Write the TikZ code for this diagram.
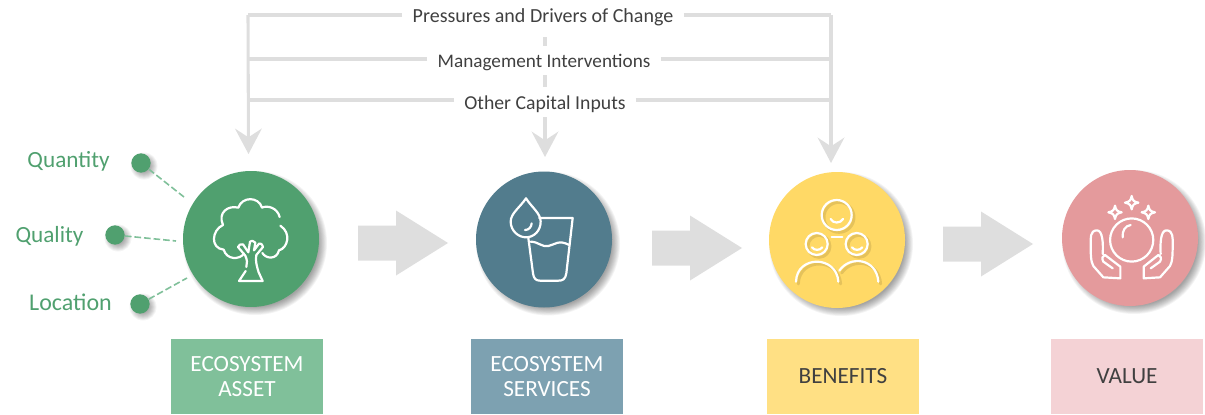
\documentclass[tikz,border=0pt]{standalone}
\usepackage{fontspec}
\setmainfont{Carlito}
\usetikzlibrary{arrows.meta,calc}
\definecolor{cgreen}{HTML}{50A06F}
\definecolor{cblue}{HTML}{527C8D}
\definecolor{cyellow}{HTML}{FFD966}
\definecolor{cpink}{HTML}{E49A9C}
\definecolor{bgreen}{HTML}{80C09A}
\definecolor{bblue}{HTML}{7DA1B1}
\definecolor{byellow}{HTML}{FFE084}
\definecolor{bpink}{HTML}{F4D2D5}
\definecolor{lgrey}{HTML}{DEDEDE}
\definecolor{tgrey}{HTML}{404040}
\tikzset{
  disc/.style={circle,draw=none,fill=#1,minimum size=102pt,inner sep=0pt},
  dot/.style={circle,draw=none,fill=cgreen,minimum size=14.5pt,inner sep=0pt},
  cap/.style={rectangle,draw=none,fill=#1,minimum width=114pt,minimum height=56.25pt,inner sep=0pt,align=center,font=\fontsize{17.4}{19.4}\selectfont},
  toplabel/.style={text=tgrey,inner xsep=7.5pt,inner ysep=1pt},
  sidelabel/.style={text=cgreen,inner sep=0pt},
  bar/.style={draw=lgrey,line width=2.3pt},
  tipbar/.style={bar,-{Stealth[length=19pt,width=20pt,inset=6.5pt]}},
  link/.style={draw=bgreen,line width=1.2pt,dash pattern=on 5pt off 2.2pt},
  icon/.style={draw=white,line width=1.65pt,line cap=round,line join=round},
  iconshade/.style={draw=black,draw opacity=.10,line width=2.2pt,line cap=round,line join=round},
  blockfill/.style={fill=lgrey,draw=none},
}
\newcommand{\softshadow}[4]{% x y radius(px) offset
  \foreach \i in {0,...,9}{
    \fill[black,opacity=.045] ({#1+#4},{#2+#4}) circle[radius={(#3+4-\i*0.9)*0.75pt}];
  }
}
\newcommand{\blockarrow}[2]{% left x, mid y
  \fill[blockfill] (#1,#2-17.5) -- ++(38,0) -- ++(0,-15) -- (#1+90,#2) -- (#1+38,#2+32.5) -- ++(0,-15) -- (#1,#2+17.5) -- cycle;
}
\begin{document}
\begin{tikzpicture}[x=0.75pt,y=-0.75pt]
\useasboundingbox (0,0) rectangle (1205,414);

% top labels
\node[toplabel,font=\fontsize{15}{18}\selectfont] (press) at (543,17.5) {Pressures and Drivers of Change};
\node[toplabel,font=\fontsize{14.4}{18}\selectfont] (mgmt) at (544,63) {Management Interventions};
\node[toplabel,font=\fontsize{14.8}{18}\selectfont] (other) at (545,104) {Other Capital Inputs};

\coordinate (tl) at (248,15);
\coordinate (tr) at (831,15);
\coordinate (ml) at (248,59);
\coordinate (mr) at (831,59);
\coordinate (ol) at (248,100);
\coordinate (or) at (831,100);
\coordinate (lt) at (248.5,154);
\coordinate (rt) at (831,163);
\coordinate (ct) at (545,157);
\coordinate (c1) at (545,37);
\coordinate (c2) at (545,46);
\coordinate (c3) at (545,75);
\coordinate (c4) at (545,87);
\coordinate (c5) at (545,117);

\draw[bar] (tl -| press.west) -- (tl);
\draw[tipbar] (tl) -- (lt);
\draw[bar] (tr -| press.east) -- (tr);
\draw[tipbar] (tr) -- (rt);
\draw[bar] (ml -| mgmt.west) -- (ml);
\draw[bar] (mr -| mgmt.east) -- (mr);
\draw[bar] (ol -| other.west) -- (ol);
\draw[bar] (or -| other.east) -- (or);
\draw[bar] (c1) -- (c2);
\draw[bar] (c3) -- (c4);
\draw[tipbar] (c5) -- (ct);

% block arrows
\blockarrow{358}{243}
\blockarrow{652}{248}
\blockarrow{943}{244}

% shadows
\softshadow{251}{239}{68}{4}
\softshadow{544}{239.5}{68}{4}
\softshadow{837}{240}{68}{4}
\softshadow{1130}{238}{68}{4}
\softshadow{141}{163}{9.5}{3}
\softshadow{115}{235}{9.5}{3}
\softshadow{140}{304}{9.5}{3}

% discs
\node[disc=cgreen] (asset) at (251,239) {};
\node[disc=cblue] (serv) at (544,239.5) {};
\node[disc=cyellow] (ben) at (837,240) {};
\node[disc=cpink] (val) at (1130,238) {};

% side dots and labels
\node[dot] (d1) at (141,163) {};
\node[dot] (d2) at (115,235) {};
\node[dot] (d3) at (140,304) {};
\node[sidelabel,font=\fontsize{17.4}{20}\selectfont] (quantity) at (68.5,161) {Quantity};
\node[sidelabel,font=\fontsize{17.4}{20}\selectfont] (quality) at (49.5,236) {Quality};
\node[sidelabel,font=\fontsize{18}{20}\selectfont] (location) at (70.5,302) {Location};
\coordinate (e1) at (184,197);
\coordinate (e2) at (176,241);
\coordinate (e3) at (187,278);
\draw[link] (d1) -- (e1);
\draw[link] (d2) -- (e2);
\draw[link] (d3) -- (e3);

% caption boxes
\node[cap=bgreen,text=white] (b1) at (247,376.5) {ECOSYSTEM\\ASSET};
\node[cap=bblue,text=white] (b2) at (547,376.5) {ECOSYSTEM\\SERVICES};
\node[cap=byellow,text=tgrey] (b3) at (843,376.5) {BENEFITS};
\node[cap=bpink,text=tgrey] (b4) at (1127,376.5) {VALUE};

% tree icon
\begin{scope}[shift={(180,165)},x=0.25pt,y=-0.25pt]
\draw[icon] (247,264) .. controls (258,282) and (290,285) .. (297,256)
  .. controls (322,250) and (336,205) .. (301,182);
\draw[icon] (299,156) .. controls (292,128) and (262,120) .. (246,128)
  .. controls (236,94) and (186,94) .. (175,128)
  .. controls (145,120) and (112,142) .. (129,180)
  .. controls (95,195) and (90,250) .. (131,254)
  .. controls (140,285) and (178,285) .. (192,266);
\draw[icon] (197,318) -- (177,348) -- (248,348) -- (236,322) .. controls (229,300) and (226,285) .. (229,270)
  -- (249,246) .. controls (246,236) and (241,234) .. (237,236) -- (222,256) -- (226,233)
  .. controls (220,226) and (214,226) .. (210,230) -- (205,262) -- (189,238)
  .. controls (182,236) and (176,240) .. (174,246) -- (196,272) .. controls (202,285) and (202,295) .. (199,306);
\end{scope}

% glass icon
\begin{scope}[shift={(440,160)},x=0.25pt,y=-0.25pt]
\draw[icon] (258,115) .. controls (240,142) and (212,160) .. (212,185)
  .. controls (212,212) and (235,232) .. (258,232)
  .. controls (282,232) and (302,212) .. (302,185)
  .. controls (302,160) and (275,142) .. (258,115) -- cycle;
\draw[icon] (255,210) .. controls (266,210) and (274,202) .. (275,190);
\draw[icon] (298,174) -- (398,174) -- (379,340) .. controls (376,358) and (368,362) .. (355,362)
  -- (300,362) .. controls (288,362) and (281,356) .. (279,340) -- (265,234);
\draw[icon] (272,245) .. controls (295,245) and (305,262) .. (325,258)
  .. controls (345,254) and (355,238) .. (388,255);
\end{scope}

% people icon
\begin{scope}[shift={(750,160)},x=0.25pt,y=-0.25pt]
\begin{scope}[shift={(7,7)},x=0.25pt,y=-0.25pt]
\draw[iconshade] (260,165) circle[radius=11.25pt];
\draw[iconshade] (200,252) circle[radius=8.25pt];
\draw[iconshade] (320,252) circle[radius=8.25pt];
\draw[iconshade] (138,365) .. controls (140,285) and (260,285) .. (265,365);
\draw[iconshade] (268,332) .. controls (300,285) and (380,295) .. (385,365);
\end{scope}
\draw[icon] (260,165) circle[radius=11.25pt];
\draw[icon] (242,177) .. controls (248,191) and (272,191) .. (279,177);
\draw[icon] (200,252) circle[radius=8.25pt];
\draw[icon] (186,262) .. controls (192,272) and (210,272) .. (217,262);
\draw[icon] (320,252) circle[radius=8.25pt];
\draw[icon] (306,262) .. controls (312,272) and (330,272) .. (337,262);
\draw[icon] (245,232) -- (277,232);
\draw[icon] (138,365) .. controls (140,285) and (260,285) .. (265,365);
\draw[icon] (268,332) .. controls (300,285) and (380,295) .. (385,365);
\end{scope}

% hands icon
\begin{scope}[shift={(1040,160)},x=0.25pt,y=-0.25pt]
\draw[icon] (275,240) circle[radius=16.2pt];
\draw[icon] (248,232) .. controls (246,212) and (256,197) .. (272,195);
\foreach \sx/\sy/\r in {275/128/20,225/157/20,325/157/20}{
  \draw[icon] (\sx,\sy-\r) .. controls (\sx+3,\sy-6) and (\sx+6,\sy-3) .. (\sx+\r,\sy)
    .. controls (\sx+6,\sy+3) and (\sx+3,\sy+6) .. (\sx,\sy+\r)
    .. controls (\sx-3,\sy+6) and (\sx-6,\sy+3) .. (\sx-\r,\sy)
    .. controls (\sx-6,\sy-3) and (\sx-3,\sy-6) .. (\sx,\sy-\r) -- cycle;
}
\draw[icon] (188,282) .. controls (190,250) and (188,210) .. (170,211)
  .. controls (150,212) and (152,235) .. (152,250) .. controls (152,280) and (152,305) .. (160,318)
  -- (190,352) -- (241,355) -- (241,320) -- (195,285) .. controls (188,286) and (184,295) .. (190,305) -- (218,325);
\draw[icon] (362,282) .. controls (360,250) and (362,210) .. (380,211)
  .. controls (400,212) and (398,235) .. (398,250) .. controls (398,280) and (398,305) .. (390,318)
  -- (360,352) -- (311,355) -- (311,320) -- (355,285) .. controls (362,286) and (366,295) .. (360,305) -- (332,325);
\end{scope}
\end{tikzpicture}
\end{document}
